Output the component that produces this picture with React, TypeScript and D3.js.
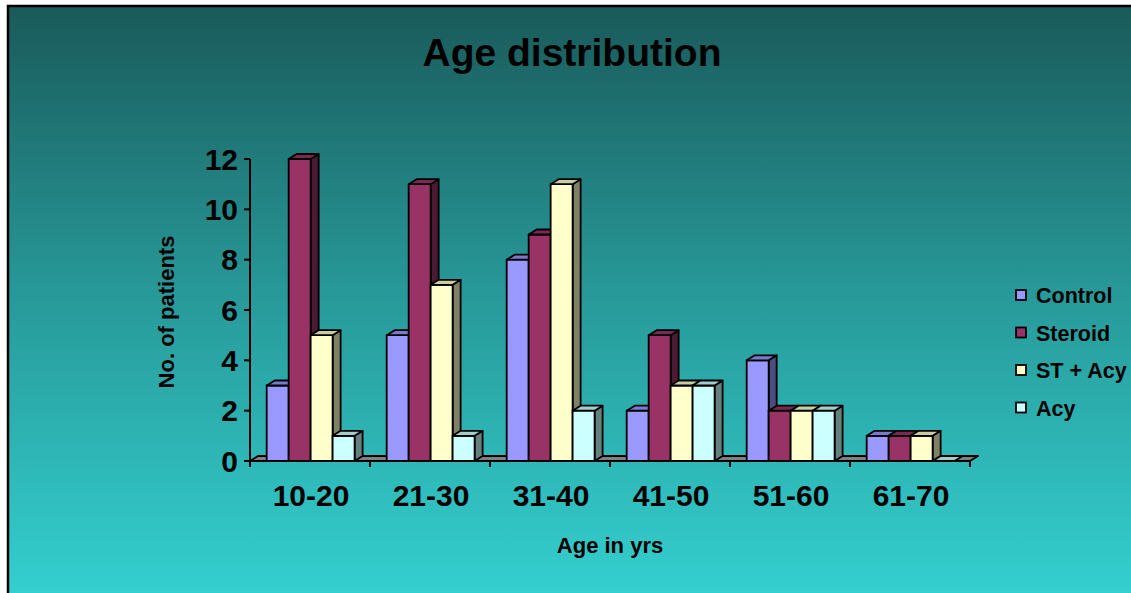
import React from "react";
import * as d3 from "d3";

const categories = ["10-20", "21-30", "31-40", "41-50", "51-60", "61-70"];
const seriesNames = ["Control", "Steroid", "ST + Acy", "Acy"];
const control = [3, 5, 8, 2, 4, 1];
const steroid = [12, 11, 9, 5, 2, 1];
const stAcy = [5, 7, 11, 3, 2, 1];
const acy = [1, 1, 2, 3, 2, 0];
const yTicks = [0, 2, 4, 6, 8, 10, 12];
const seriesColors = ["#9999ff", "#993366", "#ffffcc", "#ccffff"];

const W = 1131;
const H = 593;
const FONT = "Arial, 'Liberation Sans', Helvetica, sans-serif";
const DX = 8; // depth offset of the 3D bars
const DY = 5;

const shade = (c: string, k: number) => {
  const r = d3.rgb(c);
  return d3.rgb(r.r * k, r.g * k, r.b * k).formatHex();
};

export default function App() {
  const seriesValues = [control, steroid, stAcy, acy];
  const x0 = d3.scaleBand<string>().domain(categories).range([250, 970]).padding(0);
  const x1 = d3
    .scaleBand<string>()
    .domain(seriesNames)
    .range([0, x0.bandwidth()])
    .paddingInner(0)
    .paddingOuter(0.73)
    .align(0.52);
  const y = d3.scaleLinear().domain([0, 12]).range([461, 159]);
  const y0 = y(0);
  const [xL, xR] = x0.range();

  const bars: React.ReactNode[] = [];
  categories.forEach((cat, ci) => {
    seriesNames.forEach((s, si) => {
      const v = seriesValues[si][ci];
      const x = (x0(cat) as number) + (x1(s) as number);
      const w = x1.bandwidth();
      const yt = y(v);
      const col = seriesColors[si];
      const top = `${x},${yt} ${x + w},${yt} ${x + w + DX},${yt - DY} ${x + DX},${yt - DY}`;
      const side = `${x + w},${yt} ${x + w + DX},${yt - DY} ${x + w + DX},${y0 - DY} ${x + w},${y0}`;
      bars.push(
        <g key={`${cat}-${s}`} stroke="#000" strokeWidth={1.8} strokeLinejoin="round">
          {v > 0 && <polygon points={side} fill={shade(col, 0.5)} />}
          {v > 0 && <rect x={x} y={yt} width={w} height={y0 - yt} fill={col} />}
          <polygon points={top} fill={shade(col, 0.8)} />
        </g>
      );
    });
  });

  return (
    <div>
      <style>{`body{margin:0}`}</style>
      <svg width={W} height={H} style={{ display: "block" }} fontFamily={FONT}>
        <defs>
          <linearGradient id="bg" gradientUnits="userSpaceOnUse" x1="0" y1="6" x2="0" y2={H}>
            <stop offset="0" stopColor="#1a5a5a" />
            <stop offset="0.5" stopColor="#289a9a" />
            <stop offset="1" stopColor="#34cfcf" />
          </linearGradient>
        </defs>
        <rect x={0} y={0} width={W} height={H} fill="#fff" />
        <rect x={8} y={6} width={W + 10} height={H + 10} fill="url(#bg)" stroke="#000" strokeWidth={2.5} />

        <text x={572} y={66} textAnchor="middle" fontSize={39} fontWeight="bold" fill="#000">
          Age distribution
        </text>

        {/* floor */}
        <polygon
          points={`${xL},${y0} ${xR},${y0} ${xR + DX},${y0 - DY} ${xL + DX},${y0 - DY}`}
          fill="#808080"
          stroke="#000"
          strokeWidth={1.8}
          strokeLinejoin="round"
        />

        {bars}

        {/* value axis */}
        <line x1={xL} x2={xL} y1={y(12)} y2={y0 + 2} stroke="#000" strokeWidth={2} />
        {yTicks.map((t) => (
          <g key={t}>
            <line x1={xL - 6} x2={xL} y1={y(t)} y2={y(t)} stroke="#000" strokeWidth={2} />
            <text x={238} y={y(t)} dy="0.36em" textAnchor="end" fontSize={30} fontWeight="bold" fill="#000">
              {t}
            </text>
          </g>
        ))}

        {/* category axis */}
        <line x1={xL} x2={xR} y1={y0} y2={y0} stroke="#000" strokeWidth={2} />
        {[...categories.map((c) => x0(c) as number), xR].map((xt, i) => (
          <line key={i} x1={xt} x2={xt} y1={y0} y2={y0 + 6} stroke="#000" strokeWidth={2} />
        ))}
        {categories.map((c) => (
          <text
            key={c}
            x={(x0(c) as number) + x0.bandwidth() / 2 + 1}
            y={506}
            textAnchor="middle"
            fontSize={30}
            fontWeight="bold"
            fill="#000"
          >
            {c}
          </text>
        ))}

        <text x={610} y={553} textAnchor="middle" fontSize={22} fontWeight="bold" fill="#000">
          Age in yrs
        </text>
        <text
          transform="translate(174,312) rotate(-90)"
          textAnchor="middle"
          fontSize={22}
          fontWeight="bold"
          fill="#000"
        >
          No. of patients
        </text>

        {/* legend */}
        {seriesNames.map((s, i) => {
          const ly = 303 + i * 37.5;
          return (
            <g key={s}>
              <rect x={1016} y={ly - 13} width={10} height={10} fill={seriesColors[i]} stroke="#000" strokeWidth={1.8} />
              <text x={1036} y={ly} fontSize={21.5} fontWeight="bold" fill="#000">
                {s}
              </text>
            </g>
          );
        })}
      </svg>
    </div>
  );
}
